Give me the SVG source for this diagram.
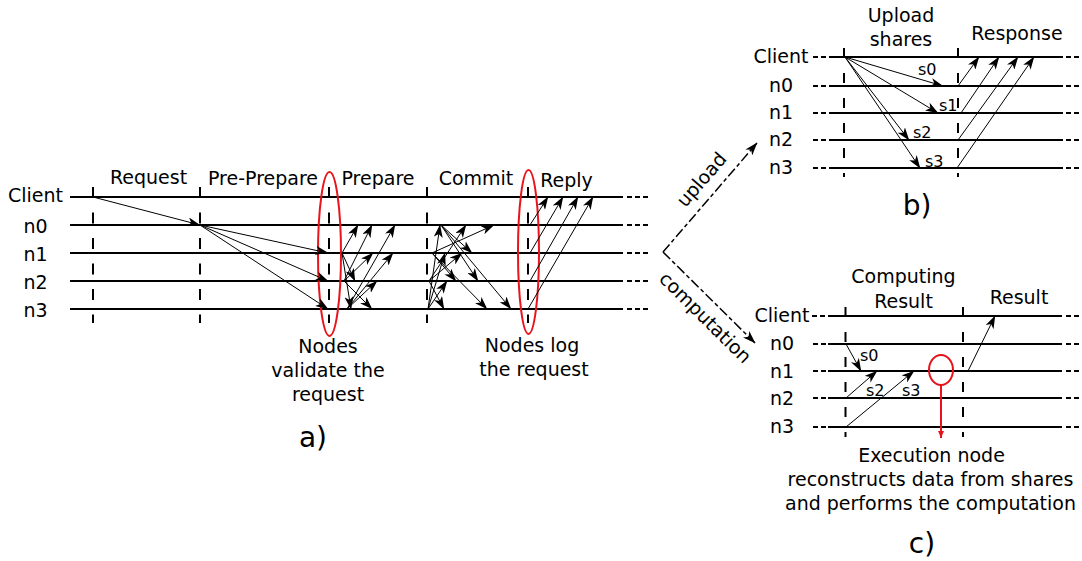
<svg xmlns="http://www.w3.org/2000/svg" width="1082" height="561" viewBox="0 0 1082 561">
  <style>
    text { font-family: "DejaVu Sans", Verdana, sans-serif; fill: #000; }
    .lbl { font-size: 19px; }
    .mid { text-anchor: middle; }
    .sm { font-size: 16px; }
    .cap { font-size: 28px; text-anchor: middle; }
    .tl { stroke: #000; stroke-width: 2; fill: none; }
    .tlx { stroke: #000; stroke-width: 2; fill: none; stroke-dasharray: 5 3; }
    .ph { stroke: #000; stroke-width: 2; fill: none; stroke-dasharray: 11 14.5; }
    .ph2 { stroke: #000; stroke-width: 2; fill: none; stroke-dasharray: 10 15; }
    .msg { stroke: #000; stroke-width: 1; fill: none; marker-end: url(#ah); }
    .flow { stroke: #000; stroke-width: 1.5; fill: none; stroke-dasharray: 10 3 4 3; marker-end: url(#ah); }
    .hl { stroke: #e8141c; stroke-width: 2; fill: none; }
  </style>
  <defs>
    <marker id="ah" viewBox="0 0 13 9" refX="12.5" refY="4.5" markerWidth="13" markerHeight="9" markerUnits="userSpaceOnUse" orient="auto">
      <path d="M0,0 L13,4.5 L0,9 L3.5,4.5 z" fill="#000"/>
    </marker>
    <marker id="ahr" viewBox="0 0 8 6" refX="7" refY="3" markerWidth="8" markerHeight="6" markerUnits="userSpaceOnUse" orient="auto">
      <path d="M0,0 L7,3 L0,6 z" fill="#e8141c"/>
    </marker>
  </defs>

  <!-- a) PBFT consensus -->
  <g id="pbft">
    <g id="a-client">
      <text class="lbl mid" x="35.5" y="202">Client</text>
      <line class="tl" x1="70" y1="197" x2="623" y2="197"/>
      <line class="tlx" x1="627" y1="197" x2="650" y2="197"/>
    </g>
    <g id="a-n0">
      <text class="lbl mid" x="35.5" y="233">n0</text>
      <line class="tl" x1="70" y1="225" x2="623" y2="225"/>
      <line class="tlx" x1="627" y1="225" x2="650" y2="225"/>
    </g>
    <g id="a-n1">
      <text class="lbl mid" x="35.5" y="261">n1</text>
      <line class="tl" x1="70" y1="253" x2="623" y2="253"/>
      <line class="tlx" x1="627" y1="253" x2="650" y2="253"/>
    </g>
    <g id="a-n2">
      <text class="lbl mid" x="35.5" y="289">n2</text>
      <line class="tl" x1="70" y1="281" x2="623" y2="281"/>
      <line class="tlx" x1="627" y1="281" x2="650" y2="281"/>
    </g>
    <g id="a-n3">
      <text class="lbl mid" x="35.5" y="317">n3</text>
      <line class="tl" x1="70" y1="309" x2="623" y2="309"/>
      <line class="tlx" x1="627" y1="309" x2="650" y2="309"/>
    </g>
    <g id="a-phases">
      <line class="ph" x1="93" y1="187" x2="93" y2="323"/>
      <line class="ph" x1="200" y1="187" x2="200" y2="323"/>
      <line class="ph" x1="329" y1="187" x2="329" y2="323"/>
      <line class="ph" x1="427" y1="187" x2="427" y2="323"/>
      <line class="ph" x1="528" y1="187" x2="528" y2="323"/>
      <text class="lbl mid" x="148.5" y="184">Request</text>
      <text class="lbl" x="208" y="185">Pre-Prepare</text>
      <text class="lbl mid" x="378" y="185">Prepare</text>
      <text class="lbl mid" x="476" y="185">Commit</text>
      <text class="lbl mid" x="566.5" y="187">Reply</text>
    </g>
    <g id="a-validate">
      <ellipse class="hl" cx="329.5" cy="254" rx="11.5" ry="82"/>
      <text class="lbl mid" x="328" y="353">Nodes</text>
      <text class="lbl mid" x="328" y="377">validate the</text>
      <text class="lbl mid" x="328" y="401">request</text>
    </g>
    <g id="a-log">
      <ellipse class="hl" cx="528.5" cy="252" rx="10.5" ry="82"/>
      <text class="lbl mid" x="532" y="352">Nodes log</text>
      <text class="lbl mid" x="534" y="376">the request</text>
    </g>
    <text class="cap" x="313" y="447">a)</text>
  </g>

  <!-- b) upload of shares -->
  <g id="upload">
    <g id="b-client">
      <text class="lbl mid" x="781" y="63">Client</text>
      <line class="tlx" x1="813" y1="57" x2="830" y2="57"/>
      <line class="tl" x1="830" y1="57" x2="1063" y2="57"/>
      <line class="tlx" x1="1066" y1="57" x2="1082" y2="57"/>
    </g>
    <g id="b-n0">
      <text class="lbl mid" x="781" y="92">n0</text>
      <line class="tlx" x1="813" y1="86" x2="830" y2="86"/>
      <line class="tl" x1="830" y1="86" x2="1063" y2="86"/>
      <line class="tlx" x1="1066" y1="86" x2="1082" y2="86"/>
    </g>
    <g id="b-n1">
      <text class="lbl mid" x="781" y="119">n1</text>
      <line class="tlx" x1="813" y1="113" x2="830" y2="113"/>
      <line class="tl" x1="830" y1="113" x2="1063" y2="113"/>
      <line class="tlx" x1="1066" y1="113" x2="1082" y2="113"/>
    </g>
    <g id="b-n2">
      <text class="lbl mid" x="781" y="146">n2</text>
      <line class="tlx" x1="813" y1="140" x2="830" y2="140"/>
      <line class="tl" x1="830" y1="140" x2="1063" y2="140"/>
      <line class="tlx" x1="1066" y1="140" x2="1082" y2="140"/>
    </g>
    <g id="b-n3">
      <text class="lbl mid" x="781" y="174">n3</text>
      <line class="tlx" x1="813" y1="168" x2="830" y2="168"/>
      <line class="tl" x1="830" y1="168" x2="1063" y2="168"/>
      <line class="tlx" x1="1066" y1="168" x2="1082" y2="168"/>
    </g>
    <g id="b-phases">
      <line class="ph2" x1="844" y1="48" x2="844" y2="177"/>
      <line class="ph2" x1="958" y1="48" x2="958" y2="177"/>
      <text class="lbl mid" x="901" y="22">Upload</text>
      <text class="lbl mid" x="901" y="46">shares</text>
      <text class="lbl mid" x="1017" y="40">Response</text>
    </g>
    <g id="b-shares">
      <text class="sm" x="918" y="75">s0</text>
      <text class="sm" x="939" y="111">s1</text>
      <text class="sm" x="913" y="138">s2</text>
      <text class="sm" x="925" y="167">s3</text>
    </g>
    <text class="cap" x="917" y="215">b)</text>
  </g>

  <!-- c) computation on shares -->
  <g id="computation">
    <g id="c-client">
      <text class="lbl mid" x="782" y="322">Client</text>
      <line class="tlx" x1="812" y1="316" x2="828" y2="316"/>
      <line class="tl" x1="828" y1="316" x2="1062" y2="316"/>
      <line class="tlx" x1="1066" y1="316" x2="1082" y2="316"/>
    </g>
    <g id="c-n0">
      <text class="lbl mid" x="782" y="350">n0</text>
      <line class="tlx" x1="813" y1="344" x2="828" y2="344"/>
      <line class="tl" x1="828" y1="344" x2="1062" y2="344"/>
      <line class="tlx" x1="1066" y1="344" x2="1082" y2="344"/>
    </g>
    <g id="c-n1">
      <text class="lbl mid" x="782" y="378">n1</text>
      <line class="tlx" x1="813" y1="371" x2="828" y2="371"/>
      <line class="tl" x1="828" y1="371" x2="1062" y2="371"/>
      <line class="tlx" x1="1066" y1="371" x2="1082" y2="371"/>
    </g>
    <g id="c-n2">
      <text class="lbl mid" x="782" y="405">n2</text>
      <line class="tlx" x1="813" y1="398" x2="828" y2="398"/>
      <line class="tl" x1="828" y1="398" x2="1062" y2="398"/>
      <line class="tlx" x1="1066" y1="398" x2="1082" y2="398"/>
    </g>
    <g id="c-n3">
      <text class="lbl mid" x="782" y="433">n3</text>
      <line class="tlx" x1="813" y1="427" x2="828" y2="427"/>
      <line class="tl" x1="828" y1="427" x2="1062" y2="427"/>
      <line class="tlx" x1="1066" y1="427" x2="1082" y2="427"/>
    </g>
    <g id="c-phases">
      <line class="ph2" x1="845.5" y1="307" x2="845.5" y2="437"/>
      <line class="ph2" x1="963" y1="307" x2="963" y2="437"/>
      <text class="lbl mid" x="903.5" y="283">Computing</text>
      <text class="lbl mid" x="903.5" y="308">Result</text>
      <text class="lbl mid" x="1019" y="304">Result</text>
    </g>
    <g id="c-shares">
      <text class="sm" x="860" y="361">s0</text>
      <text class="sm" x="866" y="396">s2</text>
      <text class="sm" x="902" y="396">s3</text>
    </g>
    <g id="c-exec">
      <ellipse class="hl" cx="941" cy="370" rx="12" ry="15"/>
      <line class="hl" x1="941" y1="385" x2="941" y2="438" marker-end="url(#ahr)"/>
      <text class="lbl mid" x="931.5" y="462">Execution node</text>
      <text class="lbl mid" x="930.5" y="486">reconstructs data from shares</text>
      <text class="lbl mid" x="930.5" y="510">and performs the computation</text>
    </g>
    <text class="cap" x="922" y="553">c)</text>
  </g>

  <!-- branch labels -->
  <g id="branches">
    <text class="lbl mid" transform="translate(702,180) rotate(-49)" x="0" y="6">upload</text>
    <text class="lbl mid" transform="translate(705,318) rotate(44.7)" x="0" y="6">computation</text>
  </g>

  <g id="connectors">
    <!-- branch arrows -->
    <path class="flow" d="M663,252 L757,143"/>
    <path class="flow" d="M663,252 L755,343"/>

    <!-- a) request -->
    <line class="msg" x1="93" y1="197" x2="200" y2="225"/>
    <!-- a) pre-prepare -->
    <line class="msg" x1="200" y1="225" x2="328" y2="253"/>
    <line class="msg" x1="200" y1="225" x2="328" y2="281"/>
    <line class="msg" x1="200" y1="225" x2="328" y2="309"/>
    <!-- a) prepare -->
    <line class="msg" x1="342" y1="253" x2="358" y2="225"/>
    <line class="msg" x1="342" y1="253" x2="355" y2="281"/>
    <line class="msg" x1="342" y1="253" x2="351" y2="309"/>
    <line class="msg" x1="344" y1="281" x2="372" y2="225"/>
    <line class="msg" x1="344" y1="281" x2="373" y2="253"/>
    <line class="msg" x1="344" y1="281" x2="372" y2="309"/>
    <line class="msg" x1="347" y1="309" x2="395" y2="225"/>
    <line class="msg" x1="347" y1="309" x2="393" y2="253"/>
    <line class="msg" x1="347" y1="309" x2="377" y2="281"/>
    <!-- a) commit -->
    <line class="msg" x1="428" y1="309" x2="440" y2="225"/>
    <line class="msg" x1="428" y1="309" x2="445" y2="253"/>
    <line class="msg" x1="428" y1="309" x2="447" y2="281"/>
    <line class="msg" x1="429" y1="281" x2="466" y2="225"/>
    <line class="msg" x1="429" y1="281" x2="462" y2="253"/>
    <line class="msg" x1="429" y1="281" x2="444" y2="309"/>
    <line class="msg" x1="432" y1="253" x2="494" y2="225"/>
    <line class="msg" x1="432" y1="253" x2="456" y2="281"/>
    <line class="msg" x1="432" y1="253" x2="487" y2="309"/>
    <line class="msg" x1="441" y1="225" x2="472" y2="253"/>
    <line class="msg" x1="441" y1="225" x2="478" y2="281"/>
    <line class="msg" x1="441" y1="225" x2="511" y2="309"/>
    <!-- a) reply -->
    <line class="msg" x1="530" y1="225" x2="548" y2="197"/>
    <line class="msg" x1="530" y1="253" x2="563" y2="197"/>
    <line class="msg" x1="530" y1="281" x2="578" y2="197"/>
    <line class="msg" x1="528" y1="309" x2="593" y2="197"/>

    <!-- b) upload shares -->
    <line class="msg" x1="845" y1="57" x2="943" y2="86"/>
    <line class="msg" x1="845" y1="57" x2="938" y2="113"/>
    <line class="msg" x1="845" y1="57" x2="909" y2="140"/>
    <line class="msg" x1="845" y1="57" x2="920" y2="168"/>
    <!-- b) response -->
    <line class="msg" x1="958" y1="86" x2="979" y2="57"/>
    <line class="msg" x1="961" y1="113" x2="999" y2="57"/>
    <line class="msg" x1="958" y1="140" x2="1018" y2="57"/>
    <line class="msg" x1="957" y1="168" x2="1034" y2="57"/>

    <!-- c) shares to execution node -->
    <line class="msg" x1="846" y1="344" x2="861" y2="371"/>
    <line class="msg" x1="846" y1="398" x2="877" y2="371"/>
    <line class="msg" x1="846" y1="427" x2="914" y2="371"/>
    <!-- c) result -->
    <line class="msg" x1="968" y1="371" x2="995" y2="316"/>
  </g>
</svg>
